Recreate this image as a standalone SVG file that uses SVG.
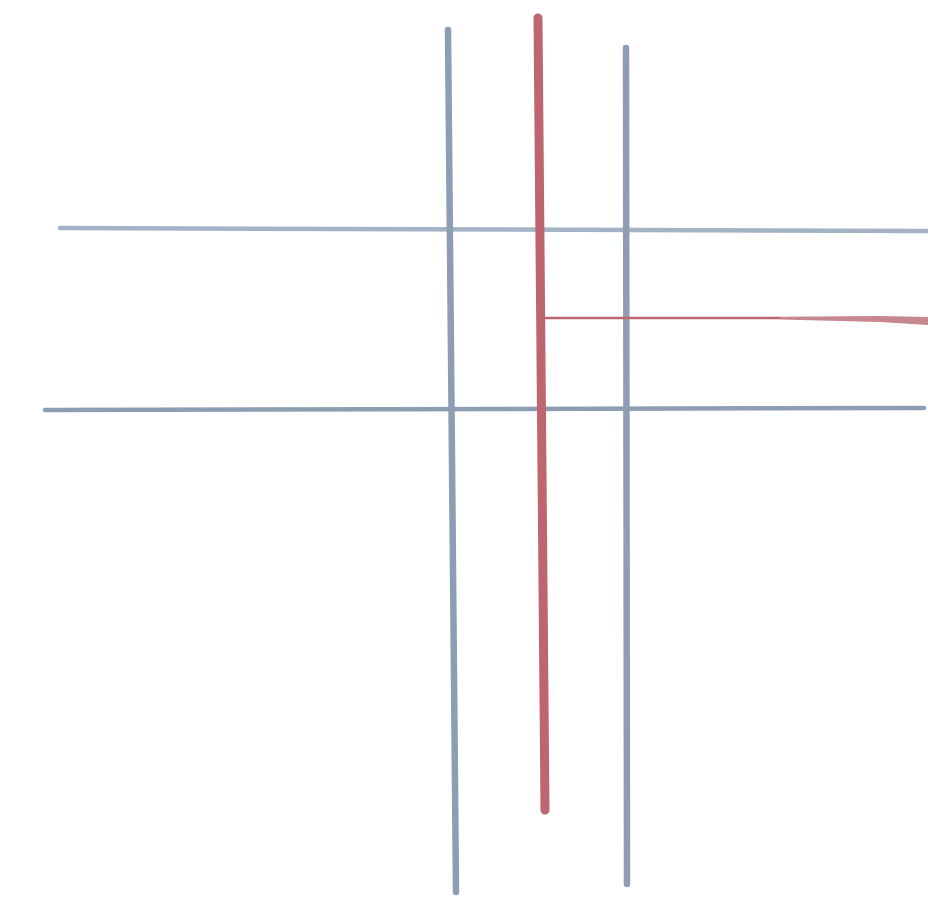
<svg xmlns="http://www.w3.org/2000/svg" width="928" height="901" viewBox="0 0 928 901">
<style>
.blue{stroke:#8d9db3;fill:none;stroke-linecap:round}
.red{stroke:#bd6670;fill:none;stroke-linecap:round}
</style>
<rect width="928" height="901" fill="#ffffff"/>
<g id="lines">
<path class="blue" d="M60 228 L928 231" stroke-width="4.5" style="stroke:#a3b2c5"/>
<path class="blue" d="M45 410 L924 408" stroke-width="4.5"/>
<path class="blue" d="M448 30 L456 892" stroke-width="6.5"/>
<path class="blue" d="M626 48 L627 884" stroke-width="6.5"/>
<path class="red" d="M538 18 L545 810" stroke-width="9"/>
<path class="red" d="M545 318 L780 318" stroke-width="2.5"/>
<polygon points="780,316.8 880,316 928,317 928,325 880,322 780,319.5" fill="#c8878e"/>
</g>
</svg>
